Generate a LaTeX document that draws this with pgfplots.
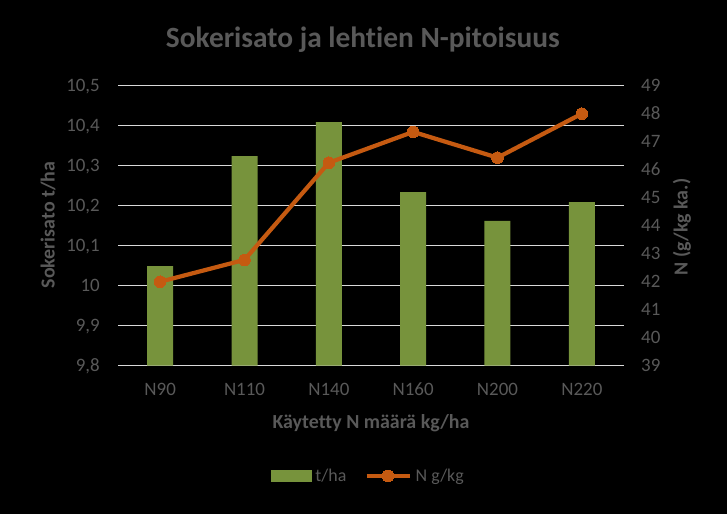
\documentclass[border=0pt]{standalone}
\usepackage{pgfplots}
\pgfplotsset{compat=1.18}
\usepackage{fontspec}
\setmainfont{Carlito}[Ligatures=NoCommon]
\definecolor{bargreen}{HTML}{77933C}
\definecolor{lineorange}{HTML}{C55A11}
\definecolor{txtgray}{HTML}{595959}
\definecolor{gridgray}{HTML}{D9D9D9}
\pgfplotsset{
  lineleg/.style={legend image code/.code={\draw[##1, mark repeat=2, mark phase=2] plot coordinates {(0bp,0bp) (21.5bp,0bp) (43bp,0bp)};}},
  barleg/.style={legend image code/.code={\fill[bargreen] (0bp,-5.5bp) rectangle (40bp,5.5bp);}},
}
\begin{document}
\begin{tikzpicture}
\fill[black] (0,0) rectangle (727bp,514bp);
\begin{axis}[
  at={(118bp,148.3bp)}, anchor=south west,
  scale only axis, width=506bp, height=280bp,
  xmin=-0.5, xmax=5.5, ymin=9.8, ymax=10.5,
  xtick={0,1,2,3,4,5}, xticklabels={N90,N110,N140,N160,N200,N220},
  ytick={9.8,9.9,10,10.1,10.2,10.3,10.4,10.5},
  yticklabels={{9,8},{9,9},{10},{10,1},{10,2},{10,3},{10,4},{10,5}},
  axis x line*=bottom, axis y line*=left,
  y axis line style={draw=none},
  x axis line style={gridgray, line width=1.6bp},
  major tick length=0pt,
  ymajorgrids, grid style={gridgray, line width=1.5bp},
  ticklabel style={font=\fontsize{19}{21}\selectfont, text=txtgray, inner sep=0pt},
  xticklabel style={anchor=base, yshift=-29.5bp},
  yticklabel style={anchor=base east, xshift=-18bp, yshift=-6bp},
  title={Sokerisato ja lehtien N-pitoisuus},
  title style={at={(axis description cs:0.484,1.1157)}, anchor=base, font=\bfseries\fontsize{29.5}{33}\selectfont, text=txtgray, inner sep=0pt},
  xlabel={Käytetty N määrä kg/ha},
  xlabel style={at={(axis description cs:0.5,-0.226)}, anchor=base, font=\bfseries\fontsize{20}{24}\selectfont, text=txtgray, inner sep=0pt},
  ylabel={Sokerisato t/ha},
  ylabel style={at={(axis description cs:-0.138,0.5025)}, anchor=center, font=\bfseries\fontsize{20}{24}\selectfont, text=txtgray, inner sep=0pt},
]
\addplot[ybar, bar width=26bp, fill=bargreen, draw=none] coordinates {(0,10.049) (1,10.324) (2,10.409) (3,10.234) (4,10.162) (5,10.209)};
\end{axis}
\begin{axis}[
  at={(118bp,148.3bp)}, anchor=south west,
  scale only axis, width=506bp, height=280bp,
  xmin=-0.5, xmax=5.5, ymin=39, ymax=49,
  ytick={39,40,41,42,43,44,45,46,47,48,49},
  /pgf/number format/assume math mode=true,
  axis x line=none, axis y line*=right,
  y axis line style={draw=none},
  xtick=\empty,
  major tick length=0pt,
  clip=false,
  ticklabel style={font=\fontsize{19}{21}\selectfont, text=txtgray, inner sep=0pt},
  yticklabel style={anchor=base west, xshift=17bp, yshift=-6bp},
  ylabel={N (g/kg ka.)},
  ylabel style={at={(axis description cs:1.1146,0.495)}, anchor=center, font=\bfseries\fontsize{20}{24}\selectfont, text=txtgray, inner sep=0pt},
  legend style={at={(axis description cs:0.493,-0.394)}, anchor=center, draw=none, fill=none, text=txtgray, font=\fontsize{18}{20}\selectfont, nodes={inner sep=0bp}, /tikz/every odd column/.append style={column sep=4bp}, /tikz/every even column/.append style={column sep=18bp}},
  legend columns=2,
]
\addlegendimage{barleg}
\addlegendentry{t/ha}
\addplot[lineorange, line width=4.2bp, mark=*, mark size=5.8bp, mark options={fill=lineorange, draw=lineorange, line width=0pt}, lineleg]
  coordinates {(0,42.0) (1,42.78) (2,46.25) (3,47.35) (4,46.43) (5,48.0)};
\addlegendentry{N g/kg}
\end{axis}
\end{tikzpicture}
\end{document}
